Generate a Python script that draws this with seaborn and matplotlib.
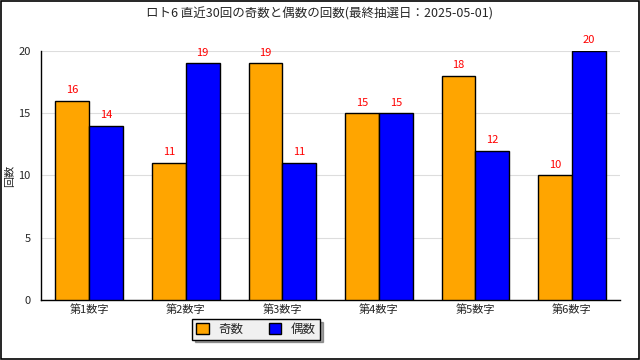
import matplotlib
matplotlib.use("Agg")
import matplotlib.pyplot as plt
import seaborn as sns
import pandas as pd
import numpy as np
from matplotlib.patches import Rectangle

categories = ["第1数字", "第2数字", "第3数字", "第4数字", "第5数字", "第6数字"]
odd_counts = [16, 11, 19, 15, 18, 10]
even_counts = [14, 19, 11, 15, 12, 20]
series_names = ["奇数", "偶数"]
colors = ["#FFA500", "#0000FF"]

df = pd.DataFrame({
    "cat": categories * 2,
    "series": [series_names[0]] * 6 + [series_names[1]] * 6,
    "value": odd_counts + even_counts,
})

sns.set_style("white")
plt.rcParams["font.family"] = ["Noto Sans CJK JP", "DejaVu Sans"]

fig = plt.figure(figsize=(6.4, 3.6), dpi=100)
ax = fig.add_axes([0.064, 0.1667, 0.905, 0.692])

sns.barplot(data=df, x="cat", y="value", hue="series", palette=colors,
            width=0.7, edgecolor="black", linewidth=1, saturation=1,
            ax=ax, legend=False, zorder=3)

for cont in ax.containers:
    ax.bar_label(cont, padding=4, color="red", fontsize=8)

ax.set_xlim(-0.5, 5.5)
ax.set_ylim(0, 20)
ax.set_yticks([0, 5, 10, 15, 20])
ax.yaxis.grid(True, color="#DDDDDD", linewidth=0.8, zorder=0)
ax.set_axisbelow(True)
for s in ["top", "right"]:
    ax.spines[s].set_visible(False)
for s in ["left", "bottom"]:
    ax.spines[s].set_color("black")
    ax.spines[s].set_linewidth(1)
ax.tick_params(axis="y", direction="out", length=4, labelsize=8, color="black")
ax.tick_params(axis="x", length=0, labelsize=8, pad=3)
ax.set_xticks(np.arange(0.5, 6, 1), minor=True)
ax.tick_params(axis="x", which="minor", direction="in", length=4, color="black")
ax.set_xlabel("")
ax.set_ylabel("回数", fontsize=8)
ax.yaxis.set_label_coords(-0.045, 0.5)

fig.suptitle("ロト6 直近30回の奇数と偶数の回数(最終抽選日：2025-05-01)",
             fontsize=9, y=0.98)

# legend with shadow
handles = [Rectangle((0, 0), 1, 1, facecolor=c, edgecolor="black") for c in colors]
leg = fig.legend(handles, series_names, loc="center", bbox_to_anchor=(0.4, 0.085),
                 ncol=2, fontsize=9, frameon=True, shadow=True, fancybox=False,
                 edgecolor="black", facecolor="#F0F0F0", handlelength=1.0,
                 handleheight=1.0, columnspacing=2.0, borderpad=0.3)

# figure border
fig.patches.append(Rectangle((0.001, 0.002), 0.997, 0.996, transform=fig.transFigure,
                             fill=False, edgecolor="black", linewidth=1.2))

fig.savefig("out.png", dpi=100)
